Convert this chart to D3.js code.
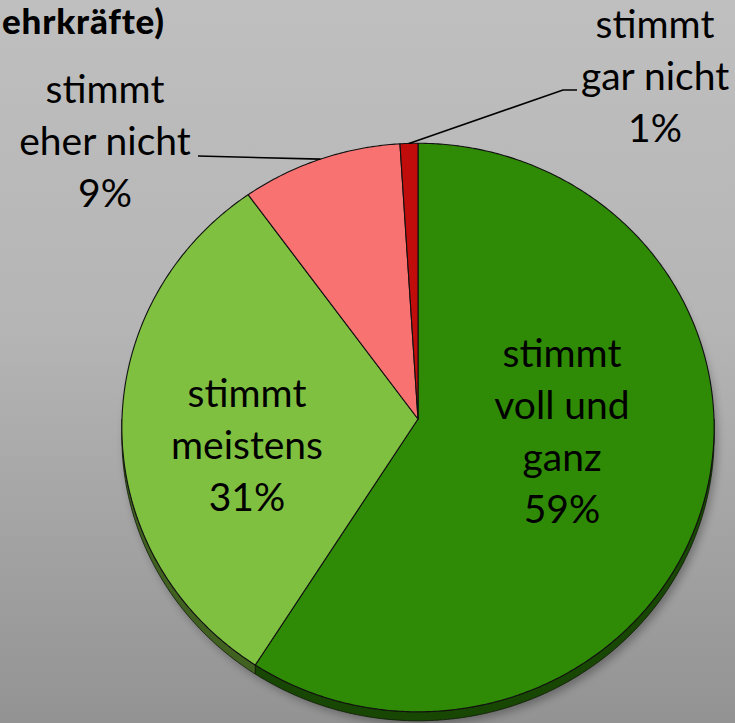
<!DOCTYPE html>
<html>
<head>
<meta charset="utf-8">
<script src="https://cdn.jsdelivr.net/npm/d3@7"></script>
<style>
  html, body { margin: 0; padding: 0; overflow: hidden; background: #aaa; }
  text { font-family: Lato, "Noto Sans", sans-serif; }
</style>
</head>
<body>
<svg id="chart" width="735" height="723"></svg>
<script>
// Survey answers, clockwise from 12 o'clock
const categories = ["stimmt voll und ganz", "stimmt meistens", "stimmt eher nicht", "stimmt gar nicht"];
const labelLines = [["stimmt", "voll und", "ganz"], ["stimmt", "meistens"], ["stimmt", "eher nicht"], ["stimmt", "gar nicht"]];
const values = [59, 31, 9, 1];
const percentLabels = ["59%", "31%", "9%", "1%"];
const sliceColors = ["#2f8a06", "#80c040", "#f87272", "#c10c0c"];
const titleText = "ehrkräfte)";

const W = 735, H = 723;
const svg = d3.select("#chart");

// Background gradient
const defs = svg.append("defs");
const bg = defs.append("linearGradient").attr("id", "bg").attr("x1", 0).attr("y1", 0).attr("x2", 0).attr("y2", 1);
bg.append("stop").attr("offset", "0%").attr("stop-color", "#bfbfbf");
bg.append("stop").attr("offset", "45%").attr("stop-color", "#b5b5b5");
bg.append("stop").attr("offset", "100%").attr("stop-color", "#939393");
svg.append("rect").attr("width", W).attr("height", H).attr("fill", "url(#bg)");

const blur = defs.append("filter").attr("id", "soft").attr("x", "-10%").attr("y", "-10%").attr("width", "120%").attr("height", "120%");
blur.append("feGaussianBlur").attr("stdDeviation", 4);

// Tilted disc: perspective projection of the unit circle
const cx = 418, cy = 419, rx = 296, ry = 284, persp = 0.03, depth = 9;
function proj(theta, r, dy = 0) {
  const x = Math.sin(theta) * r, y = -Math.cos(theta) * r;
  const w = 1 - persp * y;
  return [cx + rx * x / w, cy + ry * y / w + dy];
}
function arcPoints(a0, a1, dy = 0) {
  const n = Math.max(2, Math.ceil(Math.abs(a1 - a0) / (Math.PI / 360)));
  return d3.range(n + 1).map(i => proj(a0 + (a1 - a0) * i / n, 1, dy));
}
const line = d3.line();

const pie = d3.pie().sort(null).value(d => d)(values);

// Drop shadow under the disc
const rim = arcPoints(0, 2 * Math.PI, depth);
svg.append("path")
  .attr("d", line(rim) + "Z")
  .attr("transform", "translate(3,4)")
  .attr("fill", "#000").attr("opacity", 0.3)
  .attr("filter", "url(#soft)");

// Visible side wall (front half of the disc)
const walls = svg.append("g");
pie.forEach((p, i) => {
  const a0 = Math.max(p.startAngle, Math.PI / 2), a1 = Math.min(p.endAngle, 3 * Math.PI / 2);
  if (a0 >= a1) return;
  const pts = arcPoints(a0, a1).concat(arcPoints(a1, a0, depth));
  walls.append("path")
    .attr("d", line(pts) + "Z")
    .attr("fill", d3.color(sliceColors[i]).darker(1.9))
    .attr("stroke", "#0d1a05").attr("stroke-width", 0.8).attr("stroke-linejoin", "round");
});

// Top faces
const faces = svg.append("g");
pie.forEach((p, i) => {
  const pts = [proj(0, 0)].concat(arcPoints(p.startAngle, p.endAngle));
  faces.append("path")
    .attr("d", line(pts) + "Z")
    .attr("fill", sliceColors[i])
    .attr("stroke", "#111").attr("stroke-width", 1.1).attr("stroke-linejoin", "round");
});

// Data labels
const fontSize = 39, lh = 52;
const labelPos = [[562, 367], [247, 407], [105, 103], [655, 38]];
const labels = svg.append("g").attr("font-size", fontSize).attr("fill", "#000").attr("text-anchor", "middle");
pie.forEach((p, i) => {
  const lines = labelLines[i].concat([percentLabels[i]]);
  const t = labels.append("text").attr("x", labelPos[i][0]).attr("y", labelPos[i][1]);
  lines.forEach((s, j) => t.append("tspan").attr("x", labelPos[i][0]).attr("dy", j === 0 ? 0 : lh).text(s));
});

// Leader lines for the two small slices
const mid = p => (p.startAngle + p.endAngle) / 2;
const leaders = [
  [[198, 156], proj(mid(pie[2]), 1)],
  [proj(mid(pie[3]), 1), [563, 90], [577, 90]]
];
svg.append("g").selectAll("path").data(leaders).join("path")
  .attr("d", d => line(d))
  .attr("fill", "none").attr("stroke", "#000").attr("stroke-width", 1.6);

// Title fragment in the top-left corner
svg.append("text")
  .attr("x", 2).attr("y", 34)
  .attr("font-size", 35).attr("font-weight", 900).attr("letter-spacing", 0.8).attr("fill", "#000")
  .text(titleText);
</script>
</body>
</html>
